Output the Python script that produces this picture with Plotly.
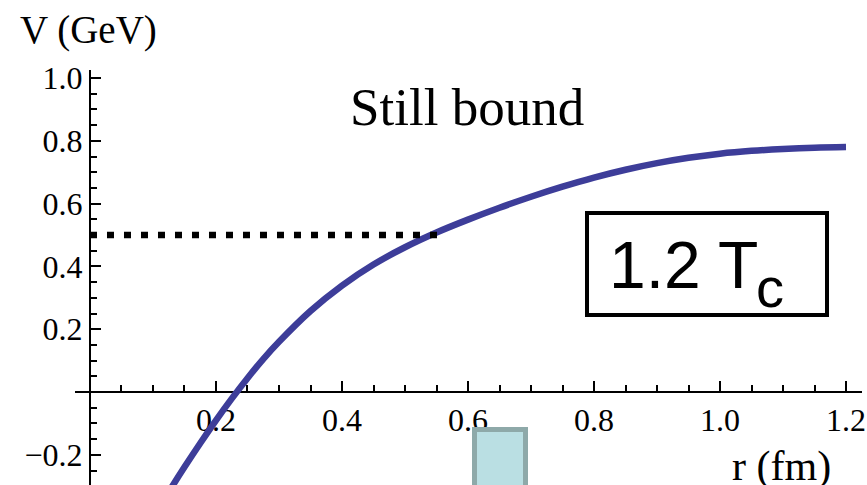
import plotly.graph_objects as go

# Potential V(r) at 1.2 Tc
r_fm = [0.10, 0.125, 0.15, 0.175, 0.20, 0.225, 0.25, 0.275, 0.30, 0.35, 0.40,
        0.45, 0.50, 0.55, 0.60, 0.65, 0.70, 0.75, 0.80, 0.85, 0.90, 0.95,
        1.00, 1.05, 1.10, 1.15, 1.20]
v_gev = [-0.40, -0.318, -0.239, -0.163, -0.090, -0.021, 0.044, 0.105, 0.160, 0.258, 0.339,
         0.406, 0.461, 0.508, 0.549, 0.587, 0.622, 0.654, 0.683, 0.708, 0.729, 0.746,
         0.759, 0.768, 0.774, 0.778, 0.780]

# Binding-energy level marker
level_r = [0.0, 0.56]
level_v = [0.5, 0.5]

x_tick_vals = [0.2, 0.4, 0.6, 0.8, 1.0, 1.2]
x_tick_text = ["0.2", "0.4", "0.6", "0.8", "1.0", "1.2"]
y_tick_vals = [-0.2, 0.2, 0.4, 0.6, 0.8, 1.0]
y_tick_text = ["\u22120.2", "0.2", "0.4", "0.6", "0.8", "1.0"]

X_RANGE = [-0.0238, 1.2254]
Y_RANGE = [-0.296, 1.0255]

W, H = 867, 485
M_L, M_R, M_T, M_B = 75, 5, 70, 0
PW, PH = W - M_L - M_R, H - M_T - M_B


def px_x(px):
    return (px - M_L) / PW


def px_y(py):
    return (H - M_B - py) / PH


SERIF = "Liberation Serif, Times New Roman, serif"
SANS = "Liberation Sans, Arial, sans-serif"

fig = go.Figure()
fig.add_trace(go.Scatter(
    x=r_fm, y=v_gev, mode="lines",
    line=dict(color="#3d3d99", width=6.5, shape="spline", smoothing=1.0),
    hoverinfo="skip", showlegend=False,
))
fig.add_trace(go.Scatter(
    x=level_r, y=level_v, mode="lines",
    line=dict(color="black", width=6.5, dash="7px,10px"),
    hoverinfo="skip", showlegend=False,
))

axis_common = dict(
    showgrid=False, zeroline=False, showline=True, linecolor="black", linewidth=2,
    ticks="inside", ticklen=10, tickwidth=2, tickcolor="black",
    tickmode="array", layer="below traces",
    tickfont=dict(family=SERIF, size=32, color="black"),
    minor=dict(tickmode="linear", tick0=0, dtick=0.05, ticks="inside",
               ticklen=6, tickwidth=2, tickcolor="black", showgrid=False),
    anchor="free",
)

fig.update_layout(
    width=W, height=H,
    margin=dict(l=M_L, r=M_R, t=M_T, b=M_B, pad=0),
    paper_bgcolor="white", plot_bgcolor="white",
    xaxis=dict(axis_common, range=X_RANGE, tickvals=x_tick_vals, ticktext=x_tick_text,
               position=(0 - Y_RANGE[0]) / (Y_RANGE[1] - Y_RANGE[0])),
    yaxis=dict(axis_common, range=Y_RANGE, tickvals=y_tick_vals, ticktext=y_tick_text,
               position=(0 - X_RANGE[0]) / (X_RANGE[1] - X_RANGE[0])),
    showlegend=False,
)

annotations = [
    dict(text="V (GeV)", x=px_x(88), y=px_y(30), font=dict(family=SERIF, size=39, color="black")),
    dict(text="Still bound", x=px_x(467), y=px_y(107), font=dict(family=SERIF, size=53, color="black")),
    dict(text="r (fm)", x=px_x(781), y=px_y(466), font=dict(family=SERIF, size=42, color="black")),
    dict(text="1.2 T", x=px_x(607), y=px_y(265), xanchor="left",
         font=dict(family=SANS, size=66, color="black")),
    dict(text="c", x=px_x(770), y=px_y(287), font=dict(family=SANS, size=56, color="black")),
]
for a in annotations:
    a.setdefault("xanchor", "center")
    fig.add_annotation(xref="paper", yref="paper", yanchor="middle", showarrow=False, **a)

# Temperature label frame
fig.add_shape(type="rect", xref="paper", yref="paper",
              x0=px_x(587), x1=px_x(827), y0=px_y(315), y1=px_y(213),
              line=dict(color="black", width=4), fillcolor="rgba(0,0,0,0)")
# Small light-blue block at the bottom edge
fig.add_shape(type="rect", xref="paper", yref="paper",
              x0=px_x(474.5), x1=px_x(525.5), y0=px_y(520), y1=px_y(429.5),
              line=dict(color="#8ea9a9", width=5), fillcolor="#badfe3")

fig.write_html("out.html")
